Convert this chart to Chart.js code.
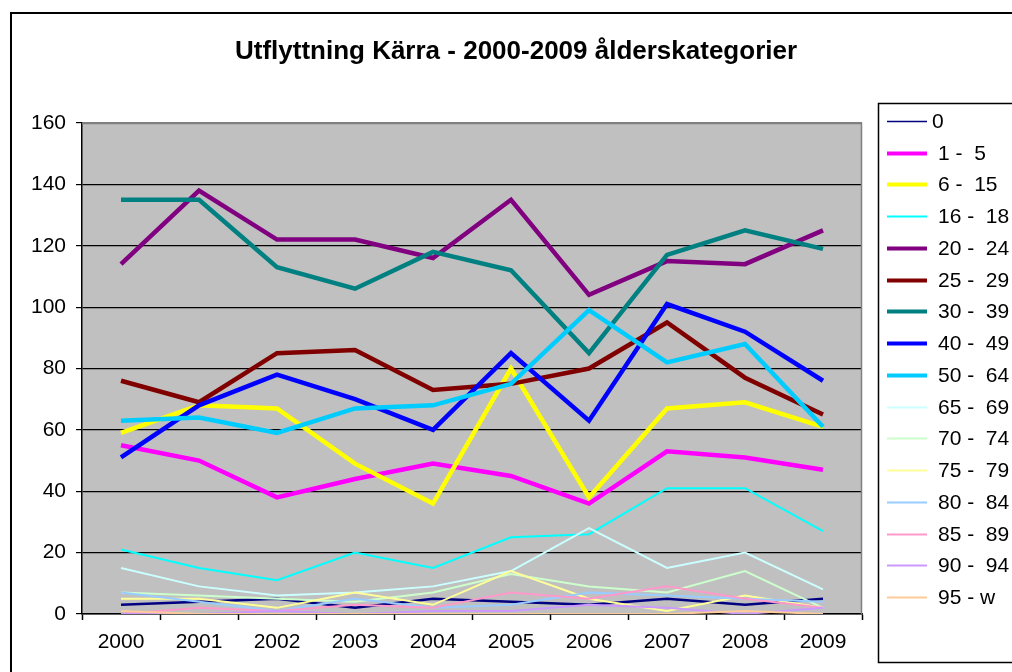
<!DOCTYPE html>
<html>
<head>
<meta charset="utf-8">
<script src="https://cdn.jsdelivr.net/npm/chart.js@4"></script>
<style>
html,body{margin:0;padding:0;background:#fff;overflow:hidden;}
#wrap{position:absolute;left:0;top:0;width:1012px;height:672px;}
</style>
</head>
<body>
<div id="wrap"><canvas id="c" width="1012" height="672"></canvas></div>
<script>
const chartTitle = 'Utflyttning Kärra - 2000-2009 ålderskategorier';
const years = ['2000','2001','2002','2003','2004','2005','2006','2007','2008','2009'];
const yTicks = [0,20,40,60,80,100,120,140,160];
const ageGroups = ['0','1 -  5','6 -  15','16 -  18','20 -  24','25 -  29','30 -  39','40 -  49','50 -  64','65 -  69','70 -  74','75 -  79','80 -  84','85 -  89','90 -  94','95 - w'];
const age0    = [3, 4, 5, 2, 5, 4, 3, 5, 3, 5];
const age1_5  = [55, 50, 38, 44, 49, 45, 36, 53, 51, 47];
const age6_15 = [59, 68, 67, 49, 36, 80, 38, 67, 69, 61];
const age16_18= [21, 15, 11, 20, 15, 25, 26, 41, 41, 27];
const age20_24= [114, 138, 122, 122, 116, 135, 104, 115, 114, 125];
const age25_29= [76, 69, 85, 86, 73, 75, 80, 95, 77, 65];
const age30_39= [135, 135, 113, 106, 118, 112, 85, 117, 125, 119];
const age40_49= [51, 68, 78, 70, 60, 85, 63, 101, 92, 76];
const age50_64= [63, 64, 59, 67, 68, 75, 99, 82, 88, 61];
const age65_69= [15, 9, 6, 7, 9, 14, 28, 15, 20, 8];
const age70_74= [7, 6, 5, 4, 7, 13, 9, 7, 14, 2];
const age75_79= [5, 5, 2, 7, 3, 14, 5, 1, 6, 2];
const age80_84= [7, 4, 1, 5, 2, 3, 7, 6, 5, 4];
const age85_89= [0, 2, 1, 3, 2, 7, 5, 9, 5, 2];
const age90_94= [0, 0, 1, 0, 1, 1, 3, 2, 0, 2];
const age95_w = [1, 0, 0, 0, 0, 0, 0, 0, 1, 0];

const seriesValues = [age0,age1_5,age6_15,age16_18,age20_24,age25_29,age30_39,age40_49,age50_64,age65_69,age70_74,age75_79,age80_84,age85_89,age90_94,age95_w];
const seriesColors = ['#000080','#FF00FF','#FFFF00','#00FFFF','#800080','#800000','#008080','#0000FF','#00CCFF','#CCFFFF','#CCFFCC','#FFFF99','#99CCFF','#FF99CC','#CC99FF','#FFCC99'];
const seriesWidths = [2.5,4.5,4.5,2,4.5,4.5,4.5,4.5,4.5,2,2,2,2,2,2,2];
const legendWidths = [1.5,4,4,2,4,4,4,4,4,2,2,2,2,2,2,2];

const FONT = '"Liberation Sans", Arial, sans-serif';
Chart.defaults.font.family = FONT;
Chart.defaults.font.size = 21;
Chart.defaults.color = '#000';

const datasets = seriesValues.map((v,i)=>({
  label: ageGroups[i],
  data: v,
  borderColor: seriesColors[i],
  backgroundColor: seriesColors[i],
  borderWidth: seriesWidths[i],
  pointRadius: 0,
  pointHoverRadius: 0,
  tension: 0,
  fill: false,
  order: -i
}));

const decor = {
  id: 'decor',
  beforeDraw(chart){
    const ctx = chart.ctx, a = chart.chartArea;
    ctx.save();
    ctx.fillStyle = '#fff';
    ctx.fillRect(0,0,chart.width,chart.height);
    ctx.strokeStyle = '#000';
    ctx.lineWidth = 2;
    ctx.strokeRect(11, 13, 1100, 800);
    ctx.fillStyle = '#C0C0C0';
    ctx.fillRect(a.left, a.top, a.right-a.left, a.bottom-a.top);
    ctx.restore();
  },
  afterDatasetsDraw(chart){
    const ctx = chart.ctx, a = chart.chartArea;
    ctx.save();
    ctx.strokeStyle = '#808080';
    ctx.lineWidth = 1.5;
    ctx.beginPath();
    ctx.moveTo(a.left, a.top+0.5);
    ctx.lineTo(a.right-0.5, a.top+0.5);
    ctx.lineTo(a.right-0.5, a.bottom);
    ctx.stroke();
    ctx.restore();
  },
  afterDraw(chart){
    const ctx = chart.ctx;
    ctx.save();
    ctx.fillStyle = '#000';
    ctx.font = 'bold 26px ' + FONT;
    ctx.textAlign = 'center';
    ctx.textBaseline = 'middle';
    ctx.fillText(chartTitle, 516, 52);
    ctx.strokeStyle = '#000';
    ctx.lineWidth = 1.5;
    ctx.strokeRect(878.5, 103.5, 200, 559);
    ctx.font = '21px ' + FONT;
    ctx.textAlign = 'left';
    const step = (597-121)/15;
    chart.data.datasets.forEach((ds,i)=>{
      const y = Math.round(121 + i*step) + 0.5;
      ctx.strokeStyle = ds.borderColor;
      ctx.lineWidth = legendWidths[i];
      ctx.beginPath();
      ctx.moveTo(887, y);
      ctx.lineTo(927, y);
      ctx.stroke();
      ctx.fillStyle = '#000';
      ctx.fillText(ds.label, i===0 ? 932 : 938, y+1);
    });
    ctx.restore();
  }
};

new Chart(document.getElementById('c'), {
  type: 'line',
  data: { labels: years, datasets },
  options: {
    responsive: false,
    animation: false,
    devicePixelRatio: 1,
    layout: { padding: { left: 20, right: 150, top: 123, bottom: 0 } },
    plugins: { legend: { display: false }, title: { display: false }, tooltip: { enabled: false } },
    scales: {
      x: {
        type: 'category',
        offset: true,
        grid: { offset: true, drawOnChartArea: false, drawTicks: true, tickLength: 6, tickColor: '#000', tickWidth: 1.5 },
        border: { color: '#000', width: 1.5 },
        ticks: { color: '#000', padding: 10, maxRotation: 0, font: { size: 21 } },
        afterFit(s){ s.height = 58; }
      },
      y: {
        min: 0, max: 160,
        afterBuildTicks(s){ s.ticks = yTicks.map(v=>({value:v})); },
        grid: {
          color: (c)=> c.tick && c.tick.value === 160 ? '#808080' : '#000',
          lineWidth: 1.2,
          tickLength: 6, tickColor: '#000', drawTicks: true
        },
        border: { color: '#000', width: 1.5 },
        ticks: { color: '#000', padding: 10, font: { size: 21 } },
        afterFit(s){ s.width = 62; }
      }
    }
  },
  plugins: [decor]
});
</script>
</body>
</html>
